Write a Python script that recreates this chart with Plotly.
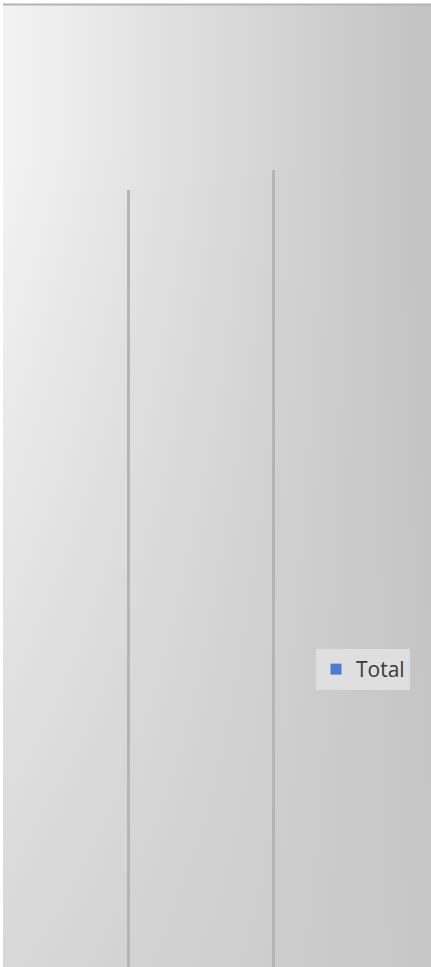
import base64
import plotly.graph_objects as go

# ---- data ----
categories = ["A", "B"]
totals = [80.4, 82.4]
series_name = "Total"

W, H = 431, 967

# background gradient (style only)
svg = f'''<svg xmlns="http://www.w3.org/2000/svg" width="{W-3}" height="{H-5}" viewBox="0 0 {W-3} {H-5}" preserveAspectRatio="none">
<defs>
<linearGradient id="h" x1="0" y1="0" x2="1" y2="0">
<stop offset="0" stop-color="#f3f3f3"/><stop offset="1" stop-color="#c2c2c2"/>
</linearGradient>
<linearGradient id="v" x1="0" y1="0" x2="0" y2="1">
<stop offset="0" stop-color="#c9c9c9" stop-opacity="0"/>
<stop offset="0.15" stop-color="#c9c9c9" stop-opacity="0"/>
<stop offset="1" stop-color="#c9c9c9" stop-opacity="0.65"/>
</linearGradient>
</defs>
<rect x="0" y="0" width="{W-3}" height="{H-5}" fill="url(#h)"/>
<rect x="0" y="0" width="{W-3}" height="{H-5}" fill="url(#v)"/>
</svg>'''
src = "data:image/svg+xml;base64," + base64.b64encode(svg.encode()).decode()

fig = go.Figure()
fig.add_trace(go.Bar(
    x=categories, y=totals, name=series_name, showlegend=False,
    width=0.021,
    marker=dict(color="#b5b5b5", line=dict(width=0)),
))
fig.add_trace(go.Scatter(
    x=[None], y=[None], mode="markers", name=series_name,
    marker=dict(symbol="square", size=11, color="#4d7bd4"),
))

unit = 145.0
x0 = -128.5 / unit
x1 = (W - 128.5) / unit

fig.update_layout(
    width=W, height=H,
    margin=dict(l=0, r=0, t=0, b=0),
    paper_bgcolor="white",
    plot_bgcolor="rgba(0,0,0,0)",
    xaxis=dict(type="category", range=[x0, x1], visible=False, fixedrange=True),
    yaxis=dict(range=[0, 100], visible=False, fixedrange=True),
    images=[dict(source=src, xref="paper", yref="paper",
                 x=3 / W, y=1 - 5 / H, sizex=(W - 3) / W, sizey=(H - 5) / H,
                 xanchor="left", yanchor="top", sizing="stretch", layer="below")],
    shapes=[dict(type="line", xref="paper", yref="paper",
                 x0=3 / W, x1=1, y0=1 - 4.5 / H, y1=1 - 4.5 / H,
                 line=dict(color="#b4b4b4", width=2))],
    legend=dict(x=316 / W, y=1 - 649 / H, xanchor="left", yanchor="top",
                bgcolor="#dfdfdf", borderwidth=0,
                font=dict(family="Open Sans", size=21, color="#3a3a3a"),
                itemsizing="trace"),
    showlegend=True,
    bargap=0,
)

fig.write_html("out.html",
               config={"displayModeBar": False, "staticPlot": True},
               post_script="document.body.style.margin='0';document.body.style.overflow='hidden';")
